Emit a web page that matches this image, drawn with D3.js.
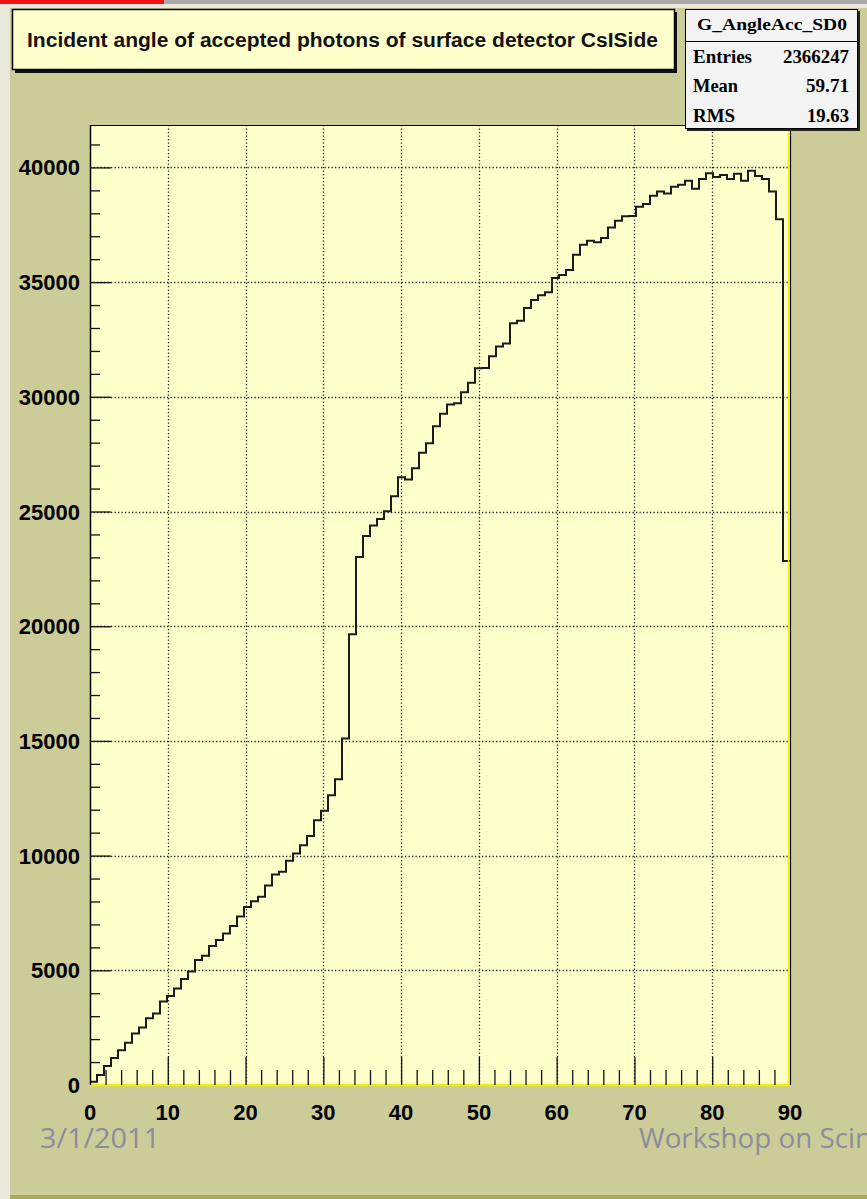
<!DOCTYPE html>
<html>
<head>
<meta charset="utf-8">
<script src="https://cdn.jsdelivr.net/npm/d3@7"></script>
<style>
  body { margin: 0; background: #e8e8da; }
  svg { display: block; }
</style>
</head>
<body>
<svg id="chart" width="867" height="1199"></svg>
<script>
// histogram G_AngleAcc_SD0 : 100 bins from 0 to 90 deg
var xMin = 0, xMax = 90, binWidth = 0.9;
var binValues = [
  145, 436, 828, 1175, 1510, 1844, 2250, 2512, 2910, 3122,
  3645, 3885, 4210, 4617, 4950, 5445, 5634, 6055, 6316, 6606,
  6930, 7345, 7755, 8015, 8203, 8695, 9177, 9293, 9771, 10091,
  10454, 10860, 11543, 11950, 12632, 13329, 15100, 19645, 23012, 23927,
  24392, 24670, 25010, 25669, 26497, 26396, 26890, 27560, 27977, 28718,
  29257, 29662, 29720, 30199, 30608, 31244, 31260, 31767, 32189, 32320,
  33204, 33321, 33875, 34223, 34424, 34555, 35182, 35313, 35530, 36196,
  36632, 36806, 36733, 36922, 37385, 37677, 37866, 37880, 38287, 38403,
  38766, 38954, 38867, 39159, 39246, 39420, 39070, 39493, 39750, 39580,
  39667, 39493, 39725, 39420, 39856, 39625, 39493, 38954, 37740, 22838
];
var xTicks = [0, 10, 20, 30, 40, 50, 60, 70, 80, 90];
var yTicks = [0, 5000, 10000, 15000, 20000, 25000, 30000, 35000, 40000];
var titleText = "Incident angle of accepted photons of surface detector CsISide";
var statsName = "G_AngleAcc_SD0";
var statsLabels = ["Entries", "Mean", "RMS"];
var statsValues = ["2366247", "59.71", "19.63"];
var footerLeft = "3/1/2011";
var footerRight = "Workshop on Scin";

var svg = d3.select("#chart");
var W = 867, H = 1199;
var frame = {left: 90, right: 790, top: 125, bottom: 1085};

// slide background pieces
svg.append("rect").attr("width", W).attr("height", H).attr("fill", "#e8e8da");
svg.append("rect").attr("x", 0).attr("y", 0).attr("width", 164).attr("height", 4).attr("fill", "#f01010");
svg.append("rect").attr("x", 164).attr("y", 0).attr("width", W - 164).attr("height", 4).attr("fill", "#a8a8a8");
svg.append("rect").attr("x", 10).attr("y", 8).attr("width", W - 10).attr("height", 1187).attr("fill", "#cccc99");
svg.append("rect").attr("x", 10).attr("y", 1195).attr("width", W - 10).attr("height", 4).attr("fill", "#a9a95f");

var x = d3.scaleLinear().domain([xMin, xMax]).range([frame.left, frame.right]);
var yMax = d3.max(binValues) * 1.05;
var y = d3.scaleLinear().domain([0, yMax]).range([frame.bottom, frame.top]);

// frame
svg.append("rect")
  .attr("x", frame.left).attr("y", frame.top)
  .attr("width", frame.right - frame.left).attr("height", frame.bottom - frame.top)
  .attr("fill", "#ffffcc");

// grid
var grid = svg.append("g").attr("stroke", "#222").attr("stroke-width", 1.3)
  .attr("stroke-dasharray", "1.3,2.2");
grid.selectAll("line.gx").data(xTicks.slice(1, -1)).enter().append("line")
  .attr("x1", function(d){ return Math.round(x(d)) + 0.5; })
  .attr("x2", function(d){ return Math.round(x(d)) + 0.5; })
  .attr("y1", frame.top).attr("y2", frame.bottom);
grid.selectAll("line.gy").data(yTicks.slice(1)).enter().append("line")
  .attr("y1", function(d){ return Math.round(y(d)) + 0.5; })
  .attr("y2", function(d){ return Math.round(y(d)) + 0.5; })
  .attr("x1", frame.left).attr("x2", frame.right);

// histogram outline
var pts = [];
binValues.forEach(function(v, i) {
  var lo = xMin + i * binWidth;
  pts.push([lo, v]);
  pts.push([lo + binWidth, v]);
});
svg.append("path")
  .datum(pts)
  .attr("fill", "none")
  .attr("stroke", "#1a1a1a")
  .attr("stroke-width", 2)
  .attr("d", d3.line().x(function(d){ return x(d[0]); }).y(function(d){ return y(d[1]); }));

// frame borders
svg.append("line").attr("x1", frame.left).attr("x2", frame.right).attr("y1", frame.bottom).attr("y2", frame.bottom)
  .attr("stroke", "#f0f000").attr("stroke-width", 2.5);
svg.append("line").attr("x1", frame.right - 1.5).attr("x2", frame.right - 1.5).attr("y1", frame.top).attr("y2", frame.bottom)
  .attr("stroke", "#f0f000").attr("stroke-width", 1.5);
svg.append("line").attr("x1", frame.right + 0.5).attr("x2", frame.right + 0.5).attr("y1", frame.top).attr("y2", frame.bottom)
  .attr("stroke", "#000").attr("stroke-width", 1.2);
svg.append("line").attr("x1", frame.left).attr("x2", frame.right).attr("y1", frame.top + 0.5).attr("y2", frame.top + 0.5)
  .attr("stroke", "#000").attr("stroke-width", 1.2);

// y axis (ticks inside the frame)
var yAxis = d3.axisRight(y)
  .tickValues(d3.range(0, yMax, 1000))
  .tickSize(10)
  .tickFormat("");
var gy = svg.append("g").attr("transform", "translate(" + frame.left + ",0)").call(yAxis);
gy.select(".domain").attr("stroke", "#000").attr("stroke-width", 1.5).attr("d", "M0.5," + frame.top + "V" + frame.bottom);
gy.selectAll(".tick line").attr("stroke", "#111").attr("stroke-width", 1.3)
  .attr("x2", function(d){ return d % 5000 === 0 ? 21 : 10; });
gy.selectAll(".tick").filter(function(d){ return d === 0; }).select("line").attr("x2", 0);

svg.append("g").selectAll("text").data(yTicks).enter().append("text")
  .attr("x", 80).attr("y", function(d){ return y(d) + 8; })
  .attr("text-anchor", "end")
  .attr("font-family", "Liberation Sans, Arial, sans-serif")
  .attr("font-weight", "bold").attr("font-size", 22)
  .text(function(d){ return d; });

// x axis (ticks inside the frame)
var xAxis = d3.axisTop(x)
  .tickValues(d3.range(0, xMax + 0.1, 2))
  .tickSize(15)
  .tickFormat("");
var gx = svg.append("g").attr("transform", "translate(0," + frame.bottom + ")").call(xAxis);
gx.select(".domain").remove();
gx.selectAll(".tick line").attr("stroke", "#111").attr("stroke-width", 1.3)
  .attr("y2", function(d){ return d % 10 === 0 ? -28 : -15; });
gx.selectAll(".tick").filter(function(d){ return d === 0 || d === 90; }).remove();

svg.append("g").selectAll("text").data(xTicks).enter().append("text")
  .attr("x", function(d){ return x(d); }).attr("y", 1120)
  .attr("text-anchor", "middle")
  .attr("font-family", "Liberation Sans, Arial, sans-serif")
  .attr("font-weight", "bold").attr("font-size", 22)
  .text(function(d){ return d; });

// title box
svg.append("rect").attr("x", 15).attr("y", 12).attr("width", 662).attr("height", 61).attr("fill", "#111");
svg.append("rect").attr("x", 12.5).attr("y", 9.5).attr("width", 662).attr("height", 60)
  .attr("fill", "#ffffcc").attr("stroke", "#000").attr("stroke-width", 1.5);
svg.append("text")
  .attr("x", 27).attr("y", 47)
  .attr("font-family", "Liberation Sans, Arial, sans-serif")
  .attr("font-weight", "bold").attr("font-size", 19.5)
  .attr("textLength", 631).attr("lengthAdjust", "spacingAndGlyphs")
  .attr("fill", "#111")
  .text(titleText);

// stats box
svg.append("rect").attr("x", 687).attr("y", 11).attr("width", 173).attr("height", 120).attr("fill", "#222");
svg.append("rect").attr("x", 685.5).attr("y", 9.5).attr("width", 172).attr("height", 119)
  .attr("fill", "#f3f3f3").attr("stroke", "#000").attr("stroke-width", 1);
svg.append("line").attr("x1", 685.5).attr("x2", 857.5).attr("y1", 41.5).attr("y2", 41.5)
  .attr("stroke", "#000").attr("stroke-width", 1);
var serif = "Liberation Serif, Times New Roman, serif";
svg.append("text").attr("x", 772).attr("y", 30).attr("text-anchor", "middle")
  .attr("font-family", serif).attr("font-weight", "bold").attr("font-size", 16)
  .attr("textLength", 150).attr("lengthAdjust", "spacingAndGlyphs")
  .text(statsName);
var rowY = [63, 92, 122];
var labelW = [59, 45, 42];
var valueW = [66, 43, 42];
statsLabels.forEach(function(lab, i) {
  svg.append("text").attr("x", 693).attr("y", rowY[i])
    .attr("font-family", serif).attr("font-weight", "bold").attr("font-size", 18)
    .attr("textLength", labelW[i]).attr("lengthAdjust", "spacingAndGlyphs")
    .text(lab);
  svg.append("text").attr("x", 849 - valueW[i]).attr("y", rowY[i])
    .attr("font-family", serif).attr("font-weight", "bold").attr("font-size", 18)
    .attr("textLength", valueW[i]).attr("lengthAdjust", "spacingAndGlyphs")
    .text(statsValues[i]);
});

// slide footer
svg.append("text").attr("x", 40).attr("y", 1148)
  .attr("font-family", "Open Sans, Lato, sans-serif").attr("font-size", 27)
  .attr("fill", "#8c8c9c")
  .attr("textLength", 120).attr("lengthAdjust", "spacingAndGlyphs")
  .text(footerLeft);
svg.append("text").attr("x", 639).attr("y", 1148)
  .attr("font-family", "Open Sans, Lato, sans-serif").attr("font-size", 27)
  .attr("fill", "#8c8c9c")
  .attr("textLength", 233).attr("lengthAdjust", "spacingAndGlyphs")
  .text(footerRight);
</script>
</body>
</html>
